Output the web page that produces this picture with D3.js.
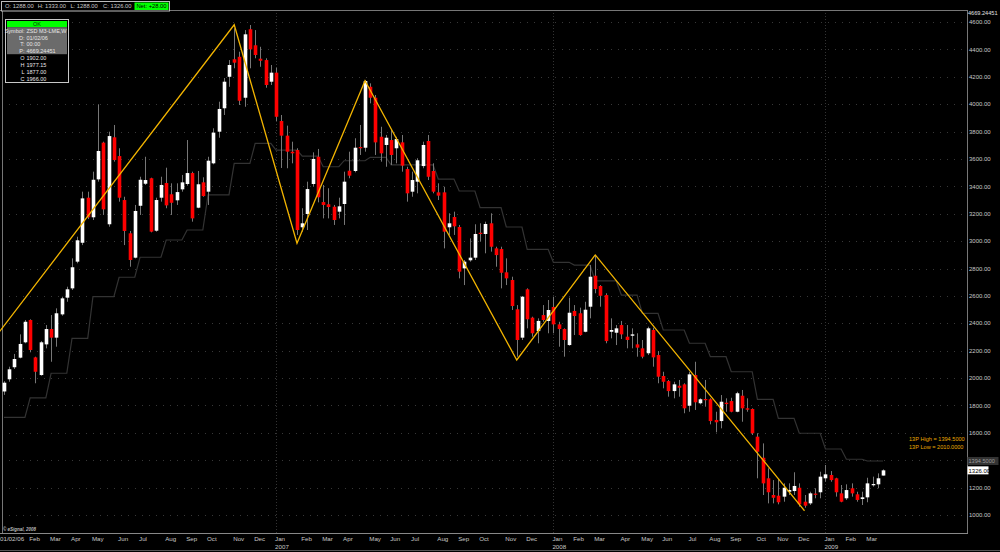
<!DOCTYPE html>
<html><head><meta charset="utf-8">
<script src="https://cdn.jsdelivr.net/npm/d3@7"></script>
<style>html,body{margin:0;padding:0;background:#000;}svg{display:block;}</style>
</head><body>
<svg id="c" width="1000" height="552"></svg>
<script>
// ---------- DATA ----------
const openV = [1902,1991,2079,2149,2261,2424,2151,2022,2246,2358,2295,2465,2587,2655,2850,2988,3317,3174,3451,3719,
3123,3758,3621,3300,3057,2879,3258,3419,3459,3076,3317,3424,3342,3298,3378,3417,3497,3244,3429,3361,
3568,3799,3970,4200,4328,4346,4047,4547,4430,4332,4322,4164,4230,3877,3770,3653,3665,3101,3198,3417,
3616,3285,3269,3251,3215,3271,3514,3512,3687,3682,4127,4047,3762,3702,3738,3678,3721,3526,3361,3434,
3548,3731,3512,3356,3356,3101,3176,3103,2801,2860,2879,3061,3052,3130,2947,2942,2772,2716,2502,2295,
2648,2441,2343,2460,2417,2519,2392,2358,2241,2490,2473,2338,2521,2747,2672,2606,2338,2331,2387,2302,
2309,2246,2217,2181,2351,2168,2015,1978,1905,1944,1954,1798,2022,1816,1847,1845,1694,1686,1820,1832,
1754,1871,1779,1774,1572,1418,1268,1146,1141,1134,1170,1175,1199,1097,1085,1156,1166,1268,1292,1268,
1158,1122,1195,1151,1117,1129,1219,1224,1288];
const highV = [1977.15,2083,2176,2319,2424,2429,2156,2270,2387,2460,2509,2594,2667,2874,3032,3361,3361,3507,3999,3726,
3799,3848,3678,3324,3074,3264,3470,3616,3463,3317,3470,3536,3422,3422,3483,3738,3507,3512,3466,3616,
3824,4018,4191,4322,4554,4383,4541,4578,4541,4419,4335,4286,4266,3921,3843,3726,3678,3240,3434,3648,
3673,3410,3386,3264,3317,3507,3653,3751,3848,4176,4152,4067,3835,3775,3811,3762,3775,3543,3507,3605,
3726,3775,3568,3422,3397,3203,3215,3118,2862,3020,3123,3130,3142,3203,2959,2959,2874,2740,2533,2599,
2655,2448,2436,2533,2570,2594,2411,2363,2587,2533,2514,2557,2825,2898,2679,2619,2436,2387,2417,2387,
2363,2327,2278,2375,2368,2197,2046,1986,1973,1986,1962,2046,2119,1852,1986,1852,1754,1876,1852,1856,
1900,1913,1852,1779,1597,1523,1341,1255,1263,1231,1231,1312,1231,1146,1170,1195,1316,1365,1321,1272,
1219,1224,1231,1170,1170,1272,1280,1304,1333];
const lowV = [1877,1973,2066,2144,2254,2188,1962,2017,2217,2119,2229,2455,2557,2643,2838,2971,3161,3154,3434,3191,
3105,3580,3288,2971,2813,2874,3191,3410,3064,3069,3288,3240,3191,3264,3361,3405,3142,3240,3324,3264,
3561,3755,3921,4127,4262,3994,3981,4262,4335,4273,4120,4140,3877,3534,3532,3568,3045,3069,3081,3397,
3283,3166,3166,3118,3166,3118,3459,3502,3629,3653,4006,3629,3580,3543,3556,3568,3507,3288,3324,3349,
3532,3446,3349,3300,2947,3045,3045,2728,2679,2850,2862,2996,2911,2923,2813,2655,2679,2497,2156,2278,
2363,2302,2254,2411,2327,2327,2229,2156,2236,2314,2309,2334,2436,2619,2521,2254,2290,2241,2285,2217,
2217,2156,2144,2168,2083,1962,1925,1864,1852,1864,1743,1754,1767,1808,1791,1662,1604,1633,1754,1750,
1750,1681,1754,1584,1268,1146,1085,1085,1078,1097,1146,1146,1061,1053,1073,1122,1122,1243,1243,1134,
1093,1110,1134,1097,1073,1093,1207,1195,1288];
const closeV = [1966,2064,2139,2249,2411,2205,2046,2261,2358,2295,2473,2582,2648,2809,3006,3312,3174,3448,3658,3232,
3767,3592,3317,3074,2862,3220,3448,3446,3069,3300,3410,3261,3280,3358,3429,3497,3166,3415,3329,3587,
3792,3965,4164,4286,4303,4025,4510,4400,4359,4317,4140,4230,3908,3770,3653,3641,3081,3130,3380,3600,
3320,3264,3249,3154,3254,3434,3478,3682,3678,4169,4047,3721,3641,3755,3629,3745,3551,3349,3446,3590,
3702,3470,3361,3332,3069,3130,3108,2777,2850,2879,3052,3052,3125,2959,2898,2769,2728,2526,2278,2594,
2429,2327,2417,2424,2497,2392,2358,2278,2477,2453,2314,2499,2740,2650,2601,2270,2351,2363,2319,2278,
2319,2222,2156,2363,2151,2010,1973,1905,1954,1929,1779,2027,1823,1845,1840,1686,1677,1827,1810,1754,
1889,1779,1769,1597,1462,1231,1166,1126,1093,1199,1182,1212,1078,1068,1158,1151,1280,1297,1255,1166,
1097,1182,1158,1110,1129,1231,1226,1268,1326];
// 13-period stepped line
const stepV = [1713,1713,1713,1713,1713,1856,1856,1856,1856,2035,2035,2035,2035,2290,2290,2290,2290,
2594,2594,2594,2594,2594,2736,2736,2736,2736,2882,2882,2882,2882,2882,3008,3008,3008,3008,
3081,3081,3081,3081,3337,3337,3337,3337,3337,3568,3568,3568,3568,3714,3714,3714,3714,
3665,3665,3665,3665,3665,3621,3621,3621,3621,3543,3543,3543,3543,3587,3587,3587,3587,3587,
3612,3612,3612,3612,3556,3556,3556,3556,3556,3556,3556,3556,3556,3453,3453,3453,3453,
3366,3366,3366,3366,3244,3244,3244,3244,3244,3103,3103,3103,3103,2940,2940,2940,2940,2940,
2845,2845,2845,2845,2825,2825,2825,2825,2709,2709,2709,2709,2709,2606,2606,2606,2606,
2473,2473,2473,2473,2351,2351,2351,2351,2351,2254,2254,2254,2254,2156,2156,2156,2156,
2046,2046,2046,2046,2046,1845,1845,1845,1845,1706,1706,1706,1706,1597,1597,1597,1597,1597,
1482,1482,1482,1482,1407,1407,1407,1407,1394.5,1394.5,1394.5,1394.5];
// zigzag pivots
const zzDates = ["2005-12-26","2006-11-06","2007-01-29","2007-04-30","2007-11-19","2008-03-03","2008-12-08"];
const zzValues = [2332,4580,2984,4171,2132,2899,1031];
const yTicks = [1000,1200,1400,1600,1800,2000,2200,2400,2600,2800,3000,3200,3400,3600,3800,4000,4200,4400,4600];
const monthNames = ["Jan","Feb","Mar","Apr","May","Jun","Jul","Aug","Sep","Oct","Nov","Dec"];
const headerItems = ["O: 1288.00","H: 1333.00","L: 1288.00","C: 1326.00"];
const infoLabels = ["Symbol:","D:","T:","P:","O","H","L","C"];
const infoValues = ["ZSD M3-LME,W","01/02/06","00:00","4669.24451","1902.00","1977.15","1877.00","1966.00"];
const legendLines = ["13P High = 1394.5000","13P Low = 2010.0000"];
const lastStep = 1394.5, lastClose = 1326;

// ---------- SETUP ----------
const dates = d3.timeMonday.range(new Date(2006,0,2), new Date(2009,2,24));
const parse = d3.timeParse("%Y-%m-%d");
const svg = d3.select("#c");
const FONT = "'Liberation Sans', Arial, sans-serif";
const L = 2, R = 967, T = 10, B = 533;
const x = d3.scaleTime().domain([dates[0], dates[dates.length-1]]).range([4, 883]);
const y = d3.scaleLinear().domain([1000, 4600]).range([515, 22]);

svg.append("rect").attr("width",1000).attr("height",552).attr("fill","#000");

// grid (dotted)
svg.append("g").selectAll("line").data(yTicks).join("line")
  .attr("x1",L).attr("x2",R).attr("y1",d=>Math.round(y(d))+0.5).attr("y2",d=>Math.round(y(d))+0.5)
  .attr("stroke","#383838").attr("stroke-dasharray","1,6");
const yearStarts = dates.filter((d,i)=> i>0 && d.getFullYear() !== dates[i-1].getFullYear());
svg.append("g").selectAll("line").data(yearStarts).join("line")
  .attr("x1",d=>Math.round(x(d))+0.5).attr("x2",d=>Math.round(x(d))+0.5).attr("y1",T).attr("y2",B)
  .attr("stroke","#333").attr("stroke-dasharray","1,2");

// frame
svg.append("line").attr("x1",L+0.5).attr("x2",L+0.5).attr("y1",T).attr("y2",B).attr("stroke","#777");
svg.append("line").attr("x1",R+0.5).attr("x2",R+0.5).attr("y1",T).attr("y2",B).attr("stroke","#777");
svg.append("line").attr("x1",0).attr("x2",R).attr("y1",T+0.5).attr("y2",T+0.5).attr("stroke","#777");
svg.append("line").attr("x1",0).attr("x2",R+1).attr("y1",B+0.5).attr("y2",B+0.5).attr("stroke","#888");
svg.append("line").attr("x1",0).attr("x2",1000).attr("y1",550.5).attr("y2",550.5).attr("stroke","#555");

// stepped line
const idx = d3.range(dates.length);
svg.append("path").datum(idx)
  .attr("d", d3.line().x(i=>x(dates[i])).y(i=>y(stepV[i])))
  .attr("fill","none").attr("stroke","#333").attr("stroke-width",1.2);

// candles
const bw = 3.6;
const cg = svg.append("g");
cg.selectAll("line").data(idx).join("line")
  .attr("x1",i=>Math.round(x(dates[i]))+0.5).attr("x2",i=>Math.round(x(dates[i]))+0.5)
  .attr("y1",i=>y(highV[i])).attr("y2",i=>y(lowV[i]))
  .attr("stroke","#777").attr("stroke-width",1);
cg.selectAll("rect").data(idx).join("rect")
  .attr("x",i=>Math.round(x(dates[i]))+0.5-bw/2)
  .attr("width",bw)
  .attr("y",i=>y(Math.max(openV[i],closeV[i])))
  .attr("height",i=>Math.max(1.2, Math.abs(y(openV[i])-y(closeV[i]))))
  .attr("fill",i=> closeV[i] >= openV[i] ? "#ffffff" : "#ff0000");

// zigzag
svg.append("path").datum(zzDates.map((d,i)=>[parse(d), zzValues[i]]))
  .attr("d", d3.line().x(d=>x(d[0])).y(d=>y(d[1])))
  .attr("fill","none").attr("stroke","#f2b400").attr("stroke-width",1.3);

// right axis (labels hidden under the last-value box are skipped, as in the original)
const ax = svg.append("g").attr("font-family",FONT).attr("font-size",6).attr("fill","#c8c8c8");
ax.selectAll("text").data(yTicks.filter(d => Math.abs(y(d)-y(lastStep)) > 6)).join("text")
  .attr("x",969).attr("y",d=>y(d)+2.2).text(d=>d.toFixed(2));
ax.append("text").attr("x",968).attr("y",15).attr("font-size",5.6).attr("fill","#e0e0e0").text("4669.24451");
// last-value boxes
svg.append("rect").attr("x",967.5).attr("y",y(lastStep)-4).attr("width",31).attr("height",8).attr("fill","#333");
svg.append("text").attr("x",968.5).attr("y",y(lastStep)+2.2).attr("font-family",FONT).attr("font-size",5.6)
  .attr("fill","#9a9a9a").text(lastStep.toFixed(4));
svg.append("rect").attr("x",967.5).attr("y",y(lastClose)-4).attr("width",21).attr("height",8).attr("fill","#fff");
svg.append("text").attr("x",968.5).attr("y",y(lastClose)+2.2).attr("font-family",FONT).attr("font-size",6)
  .attr("fill","#000").text(lastClose.toFixed(2));

// legend text
svg.append("g").selectAll("text").data(legendLines).join("text")
  .attr("x",909).attr("y",(d,i)=>441+i*8).attr("font-family",FONT).attr("font-size",5.6)
  .attr("fill","#e8a800").text(d=>d);

// x axis labels
const xl = svg.append("g").attr("font-family",FONT).attr("font-size",6.2).attr("fill","#c8c8c8");
dates.forEach((d,i)=>{
  if (i===0) { xl.append("text").attr("x",0).attr("y",541).text("01/02/06"); return; }
  if (d.getMonth() !== dates[i-1].getMonth()) {
    xl.append("text").attr("x",x(d)-1).attr("y",541).text(monthNames[d.getMonth()]);
    if (d.getMonth()===0) xl.append("text").attr("x",x(d)-1).attr("y",549).text(d.getFullYear());
  }
});
svg.append("text").attr("x",3).attr("y",531).attr("font-family",FONT).attr("font-size",4.5)
  .attr("font-style","italic").attr("font-weight","bold").attr("fill","#bbb").text("\u00a9 eSignal, 2008");

// header bar
svg.append("rect").attr("x",1.5).attr("y",1.5).attr("width",168).attr("height",9.5)
  .attr("fill","#000").attr("stroke","#bbb");
svg.append("g").selectAll("text").data(headerItems).join("text")
  .attr("x",(d,i)=>5+i*32.7).attr("y",8.4).attr("font-family",FONT).attr("font-size",5.8)
  .attr("fill","#c8c8c8").text(d=>d);
svg.append("rect").attr("x",134.5).attr("y",2.5).attr("width",34).attr("height",7.5).attr("fill","#00ff00");
svg.append("text").attr("x",151.5).attr("y",8.4).attr("text-anchor","middle").attr("font-family",FONT)
  .attr("font-size",5.8).attr("fill","#000").text("Net: +28.00");

// info box
svg.append("rect").attr("x",5.5).attr("y",19.5).attr("width",63).attr("height",63)
  .attr("fill","#000").attr("stroke","#c8c8c8");
svg.append("rect").attr("x",7).attr("y",21).attr("width",60).attr("height",6.2).attr("fill","#00ff00");
svg.append("text").attr("x",37).attr("y",26.3).attr("text-anchor","middle").attr("font-family",FONT)
  .attr("font-size",5.5).attr("fill","#004000").text("OK");
svg.append("rect").attr("x",7).attr("y",27.2).attr("width",60).attr("height",27).attr("fill","#6b6b6b");
const rowY = [32.7,39.7,46.3,53.3,60.3,67,73.7,80.7];
const ib = svg.append("g").attr("font-family",FONT).attr("font-size",5.5).attr("fill","#e6e6e6");
ib.selectAll("text.l").data(infoLabels).join("text").attr("class","l")
  .attr("x",24.5).attr("y",(d,i)=>rowY[i]).attr("text-anchor","end").text(d=>d);
ib.selectAll("text.v").data(infoValues).join("text").attr("class","v")
  .attr("x",26.5).attr("y",(d,i)=>rowY[i]).text(d=>d);
</script>
</body></html>
